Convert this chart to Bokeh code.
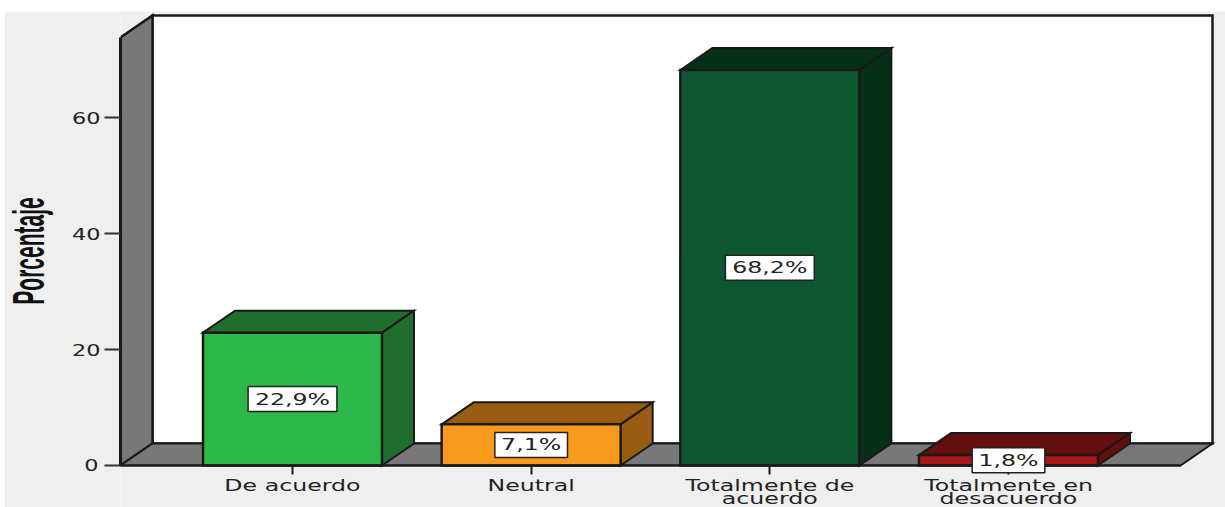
from bokeh.plotting import figure
from bokeh.document import Document
from bokeh.models import Range1d, FixedTicker, Label, CustomJS
from bokeh.embed import file_html
from bokeh.resources import INLINE

categories = ["De acuerdo", "Neutral", "Totalmente de\nacuerdo", "Totalmente en\ndesacuerdo"]
values = [22.9, 7.1, 68.2, 1.8]
value_labels = ["22,9%", "7,1%", "68,2%", "1,8%"]
front_colors = ["#2DB84A", "#FA9A1D", "#0C5730", "#A81616"]
top_colors = ["#1F6E2E", "#9A5C12", "#073019", "#650E0E"]
y_ticks = [0, 20, 40, 60]

BAR_W = 0.75
DX = 32 / 238.67
DY = 22 / 5.8
Y_TOP = 73.8
X_L, X_R = -0.7207, 3.7207
LINE = "#1A1A1A"
BG = "#EFEFEF"
WALL = "#787878"

p = figure(width=1221, height=496, output_backend="svg", toolbar_location=None,
           x_range=Range1d(X_L, 3.9092), y_range=Range1d(-42 / 5.8, 78.28),
           min_border_left=116, min_border_bottom=0, min_border_top=0, min_border_right=0,
           margin=(11, 0, 0, 4), background_fill_color=BG, border_fill_color=BG)
p.outline_line_color = None
p.grid.visible = False

kw = dict(line_color=LINE, line_join="miter")
# back wall, left wall, floor
p.patch([X_L + DX, X_R + DX, X_R + DX, X_L + DX], [DY, DY, Y_TOP + DY, Y_TOP + DY],
        fill_color="white", line_width=2.5, **kw)
p.patch([X_L, X_L + DX, X_L + DX, X_L], [0, DY, Y_TOP + DY, Y_TOP],
        fill_color=WALL, line_width=2.5, **kw)
p.patch([X_L, X_R, X_R + DX, X_L + DX], [0, 0, DY, DY],
        fill_color=WALL, line_width=2, **kw)

for i, v in enumerate(values):
    l, r = i - BAR_W / 2, i + BAR_W / 2
    p.patch([l, l + DX, r + DX, r], [v, v + DY, v + DY, v], fill_color=top_colors[i], line_width=2, **kw)
    p.patch([r, r + DX, r + DX, r], [0, DY, v + DY, v], fill_color=top_colors[i], line_width=2, **kw)
    p.quad(left=l, right=r, bottom=0, top=v, fill_color=front_colors[i], line_width=2.5, **kw)
    p.add_layout(Label(x=i, y=v / 2, text=value_labels[i], text_align="center", text_baseline="middle",
                       text_font="DejaVu Sans", text_font_size="16px", text_color="#222222",
                       background_fill_color="white", border_line_color="#222222", border_line_width=1.5,
                       padding=(19 if len(value_labels[i]) == 5 else 16, 3)))

xa = p.xaxis[0]
xa.fixed_location = 0
xa.ticker = FixedTicker(ticks=list(range(len(categories))))
xa.major_label_overrides = {i: c for i, c in enumerate(categories)}
xa.bounds = (X_L, X_R)
xa.axis_line_color = LINE
xa.axis_line_width = 2
xa.major_tick_out = 9
xa.major_tick_in = 0
xa.major_tick_line_color = LINE
xa.major_tick_line_width = 2
xa.major_label_standoff = 1
xa.major_label_text_font = "DejaVu Sans"
xa.major_label_text_font_size = "16px"
xa.major_label_text_color = "#222222"
xa.major_label_text_line_height = 0.72
xa.minor_tick_line_color = None

ya = p.yaxis[0]
ya.ticker = FixedTicker(ticks=y_ticks)
ya.bounds = (0, Y_TOP)
ya.axis_line_color = LINE
ya.axis_line_width = 3
ya.major_tick_out = 16
ya.major_tick_in = 0
ya.major_tick_line_color = "#333333"
ya.major_tick_line_width = 2
ya.major_label_standoff = 8
ya.major_label_text_font = "DejaVu Sans"
ya.major_label_text_font_size = "16px"
ya.major_label_text_color = "#222222"
ya.minor_tick_line_color = None
ya.axis_label = "Porcentaje"
ya.axis_label_text_font = "Liberation Sans"
ya.axis_label_text_font_style = "bold"
ya.axis_label_text_font_size = "21px"
ya.axis_label_text_color = "#111111"
ya.axis_label_standoff = 20

# The reference's texts are stretched sideways (the picture was resized unevenly).
stretch = CustomJS(code="""
function walk(root, out) {
  root.querySelectorAll('*').forEach(el => {
    if (el.shadowRoot) walk(el.shadowRoot, out);
    if (el.tagName && el.tagName.toLowerCase() === 'text') out.push(el);
  });
  return out;
}
function apply() {
  walk(document, []).forEach(t => {
    if (t.dataset.stretched) return;
    const old = t.getAttribute('transform') || '';
    const b = t.getBoundingClientRect();
    if (b.width === 0) return;
    const rotated = b.height > 40;
    const numeric = /^[0-9]+$/.test(t.textContent.trim());
    const sx = rotated ? 2.07 : (numeric ? 1.4 : 1.48);
    const svg = t.ownerSVGElement.getBoundingClientRect();
    const cx = b.left + b.width / 2 - svg.left, cy = b.top + b.height / 2 - svg.top;
    const tx = rotated ? 24 : cx, ty = rotated ? 240 : cy;
    t.setAttribute('transform', `translate(${tx} ${ty}) scale(${sx} 1) translate(${-cx} ${-cy}) ${old}`);
    t.dataset.stretched = '1';
  });
}
[0, 50, 200, 500, 1000].forEach(d => setTimeout(apply, d));
""")
doc = Document()
doc.add_root(p)
doc.js_on_event("document_ready", stretch)

open("out.html", "w").write(file_html(doc, INLINE))
